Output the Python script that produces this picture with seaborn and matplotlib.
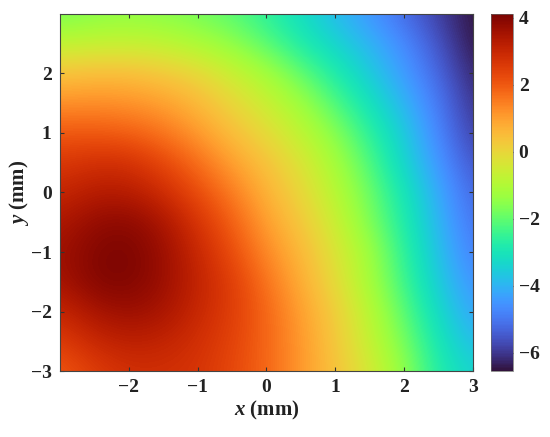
import numpy as np
import matplotlib
matplotlib.use("Agg")
import matplotlib.pyplot as plt
import seaborn as sns

# grid coordinates (mm)
x_vals = [-3, -2.5, -2, -1.5, -1, -0.5, 0, 0.5, 1, 1.5, 2, 2.5, 3]
y_vals = [-3, -2.5, -2, -1.5, -1, -0.5, 0, 0.5, 1, 1.5, 2, 2.5, 3]

# field values, rows from y=-3 (bottom) to y=3 (top)
row_ym3 = [2.0, 2.5, 2.8, 2.8, 2.7, 2.3, 1.8, 1.1, 0.4, -0.4, -1.5, -2.8, -3.4]
row_ym25 = [2.5, 3.0, 3.2, 3.1, 2.8, 2.4, 1.8, 1.1, 0.3, -0.7, -1.8, -3.0, -3.9]
row_ym2 = [3.0, 3.5, 3.7, 3.5, 3.0, 2.5, 1.8, 1.0, 0.2, -0.9, -2.1, -3.3, -4.3]
row_ym15 = [3.5, 4.0, 4.05, 3.7, 3.1, 2.5, 1.6, 0.8, -0.1, -1.2, -2.4, -3.6, -4.6]
row_ym1 = [3.6, 4.0, 4.1, 3.7, 3.0, 2.2, 1.3, 0.6, -0.3, -1.3, -2.6, -3.8, -4.9]
row_ym05 = [3.4, 3.8, 3.9, 3.5, 2.7, 1.9, 1.0, 0.3, -0.6, -1.7, -2.8, -4.0, -5.1]
row_y0 = [3.0, 3.3, 3.3, 2.9, 2.2, 1.5, 0.7, 0.0, -0.9, -1.9, -3.0, -4.2, -5.3]
row_y05 = [2.6, 2.8, 2.8, 2.3, 1.7, 1.0, 0.4, -0.3, -1.2, -2.2, -3.4, -4.5, -5.6]
row_y1 = [2.0, 2.0, 1.9, 1.6, 1.1, 0.5, -0.1, -0.8, -1.6, -2.6, -3.6, -4.8, -5.9]
row_y15 = [1.2, 1.25, 1.2, 1.0, 0.6, 0.0, -0.6, -1.3, -2.2, -3.1, -4.0, -5.0, -6.1]
row_y2 = [0.4, 0.5, 0.5, 0.3, 0.0, -0.6, -1.2, -2.0, -2.8, -3.6, -4.4, -5.3, -6.3]
row_y25 = [-0.8, -0.7, -0.7, -0.8, -1.1, -1.5, -2.1, -2.8, -3.4, -4.0, -4.7, -5.6, -6.5]
row_y3 = [-1.8, -1.6, -1.5, -1.6, -1.8, -2.1, -2.6, -3.2, -3.9, -4.5, -5.2, -5.9, -6.55]

cbar_ticks = [-6, -4, -2, 0, 2, 4]
x_ticks = [-2, -1, 0, 1, 2, 3]
y_ticks = [-3, -2, -1, 0, 1, 2]

Z = np.array([row_ym3, row_ym25, row_ym2, row_ym15, row_ym1, row_ym05, row_y0,
              row_y05, row_y1, row_y15, row_y2, row_y25, row_y3])

sns.set_theme(style="ticks")
plt.rcParams['font.family'] = ['Liberation Serif', 'DejaVu Serif']
plt.rcParams['font.weight'] = 'bold'
plt.rcParams['mathtext.fontset'] = 'custom'
plt.rcParams['mathtext.it'] = 'Liberation Serif:italic:bold'
plt.rcParams['mathtext.rm'] = 'Liberation Serif:bold'
plt.rcParams['axes.unicode_minus'] = True

fig = plt.figure(figsize=(5.5, 4.37), dpi=100)
ax = fig.add_axes([0.109, 0.151, 0.751, 0.817])
cax = fig.add_axes([0.893, 0.151, 0.040, 0.817])

dx = (x_vals[1] - x_vals[0]) / 2
dy = (y_vals[1] - y_vals[0]) / 2
im = ax.imshow(Z, origin='lower', cmap='turbo', vmin=-6.55, vmax=4.12,
               extent=[x_vals[0] - dx, x_vals[-1] + dx, y_vals[0] - dy, y_vals[-1] + dy],
               interpolation='bicubic', aspect='auto')
ax.set_xlim(-3, 3)
ax.set_ylim(-3, 3)
ax.set_xticks(x_ticks)
ax.set_yticks(y_ticks)
ax.tick_params(direction='in', top=True, right=True, length=3, width=0.8,
               labelsize=14, colors='#333333', labelcolor='#222222', pad=6)
for lab in ax.get_xticklabels() + ax.get_yticklabels():
    lab.set_fontweight('bold')
for s in ax.spines.values():
    s.set_color('#444444')
    s.set_linewidth(0.8)

ax.set_xlabel(r'$x$ (mm)', fontsize=15, fontweight='bold', color='#222222', labelpad=2)
ax.set_ylabel(r'$y$ (mm)', fontsize=15, fontweight='bold', color='#222222', labelpad=0)

cb = fig.colorbar(im, cax=cax, ticks=cbar_ticks)
cb.outline.set_linewidth(0.5)
cb.outline.set_edgecolor('#666666')
cax.tick_params(direction='in', length=3, width=0.8, labelsize=14,
                colors='#333333', labelcolor='#222222', pad=4)
for lab in cax.get_yticklabels():
    lab.set_fontweight('bold')

fig.savefig('out.png', dpi=100)
